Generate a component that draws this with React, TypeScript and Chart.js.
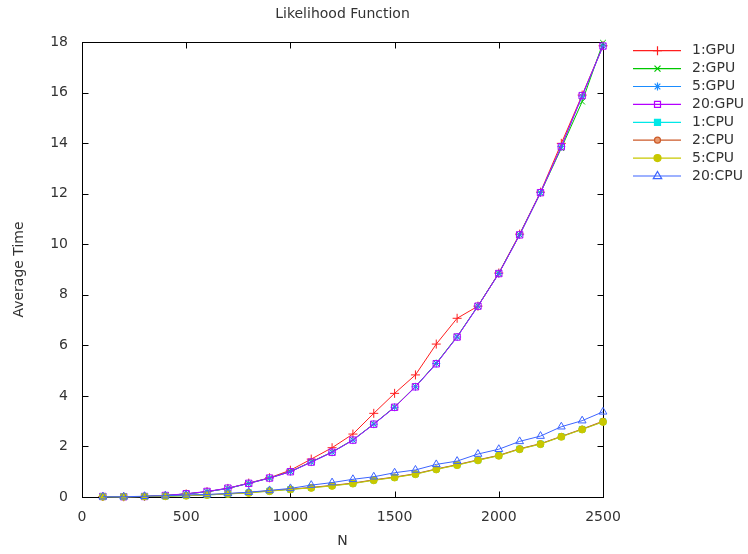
import React, { useEffect, useRef } from 'react';
import { Chart, registerables } from 'chart.js';
Chart.register(...registerables);

const N = [100, 200, 300, 400, 500, 600, 700, 800, 900, 1000, 1100, 1200, 1300, 1400, 1500, 1600, 1700, 1800, 1900, 2000, 2100, 2200, 2300, 2400, 2500];

const gpu1 = [0.02, 0.01, 0.02, 0.06, 0.12, 0.21, 0.34, 0.55, 0.76, 1.06, 1.5, 1.95, 2.49, 3.31, 4.1, 4.83, 6.05, 7.07, 7.55, 8.86, 10.4, 12.06, 13.99, 15.9, 17.85];
const gpu2 = [0.02, 0.01, 0.02, 0.06, 0.12, 0.21, 0.34, 0.54, 0.75, 1.01, 1.39, 1.78, 2.26, 2.89, 3.56, 4.37, 5.29, 6.35, 7.56, 8.85, 10.38, 12.03, 13.8, 15.64, 17.97];
const gpu5 = [0.02, 0.01, 0.02, 0.06, 0.12, 0.21, 0.34, 0.54, 0.75, 1.0, 1.38, 1.77, 2.25, 2.88, 3.55, 4.36, 5.28, 6.33, 7.55, 8.84, 10.37, 12.04, 13.86, 15.86, 17.84];
const gpu20 = [0.02, 0.01, 0.02, 0.06, 0.13, 0.22, 0.35, 0.54, 0.75, 1.0, 1.38, 1.77, 2.25, 2.88, 3.55, 4.36, 5.27, 6.33, 7.55, 8.84, 10.37, 12.04, 13.86, 15.88, 17.84];
const cpu1 = [0.01, 0.01, 0.02, 0.03, 0.05, 0.08, 0.12, 0.17, 0.24, 0.3, 0.37, 0.45, 0.54, 0.67, 0.78, 0.91, 1.1, 1.27, 1.46, 1.64, 1.9, 2.1, 2.39, 2.68, 2.98];
const cpu2 = [0.01, 0.01, 0.02, 0.04, 0.07, 0.09, 0.13, 0.18, 0.25, 0.31, 0.38, 0.46, 0.55, 0.68, 0.79, 0.92, 1.11, 1.28, 1.47, 1.65, 1.91, 2.11, 2.4, 2.69, 3.0];
const cpu5 = [0.01, 0.01, 0.02, 0.03, 0.05, 0.08, 0.12, 0.16, 0.23, 0.3, 0.36, 0.44, 0.53, 0.66, 0.77, 0.9, 1.09, 1.26, 1.45, 1.63, 1.89, 2.09, 2.38, 2.67, 2.97];
const cpu20 = [0.01, 0.01, 0.03, 0.05, 0.08, 0.1, 0.14, 0.19, 0.26, 0.34, 0.47, 0.57, 0.7, 0.8, 0.96, 1.07, 1.29, 1.42, 1.7, 1.89, 2.2, 2.41, 2.78, 3.02, 3.37];

const seriesLabels = ['1:GPU', '2:GPU', '5:GPU', '20:GPU', '1:CPU', '2:CPU', '5:CPU', '20:CPU'];
const seriesValues = [gpu1, gpu2, gpu5, gpu20, cpu1, cpu2, cpu5, cpu20];
const seriesColors = ['rgb(255,30,30)', 'rgb(0,200,0)', 'rgb(26,140,255)', 'rgb(180,0,255)', 'rgb(0,232,232)', 'rgb(204,90,40)', 'rgb(200,200,0)', 'rgb(60,100,255)'];
const seriesMarkers = ['cross', 'crossRot', 'star', 'rectOpen', 'rectFilled', 'circleRing', 'circleFilled', 'triangleOpen'];

const xTicks = [0, 500, 1000, 1500, 2000, 2500];
const yTicks = [0, 2, 4, 6, 8, 10, 12, 14, 16, 18];

const FONT = '"DejaVu Sans", sans-serif';
const TEXT = '#333333';

function markerProps(m: string, color: string) {
  switch (m) {
    case 'cross': return { pointStyle: 'cross', pointRadius: 4.5, pointBackgroundColor: color };
    case 'crossRot': return { pointStyle: 'crossRot', pointRadius: 4, pointBackgroundColor: color };
    case 'star': return { pointStyle: 'star', pointRadius: 4, pointBackgroundColor: color };
    case 'rectOpen': return { pointStyle: 'rect', pointRadius: 4.5, pointBackgroundColor: 'rgba(0,0,0,0)' };
    case 'rectFilled': return { pointStyle: 'rect', pointRadius: 4, pointBackgroundColor: color };
    case 'circleRing': return { pointStyle: 'circle', pointRadius: 3, pointBackgroundColor: 'rgb(232,154,112)' };
    case 'circleFilled': return { pointStyle: 'circle', pointRadius: 3.5, pointBackgroundColor: color };
    default: return { pointStyle: 'triangle', pointRadius: 4.5, pointBackgroundColor: 'rgba(0,0,0,0)' };
  }
}

function drawMarker(ctx: CanvasRenderingContext2D, m: string, x: number, y: number, color: string) {
  ctx.strokeStyle = color;
  ctx.fillStyle = color;
  ctx.lineWidth = 1.2;
  ctx.beginPath();
  if (m === 'cross') {
    ctx.moveTo(x - 4.5, y); ctx.lineTo(x + 4.5, y);
    ctx.moveTo(x, y - 4.5); ctx.lineTo(x, y + 4.5);
    ctx.stroke();
  } else if (m === 'crossRot') {
    const r = 3;
    ctx.moveTo(x - r, y - r); ctx.lineTo(x + r, y + r);
    ctx.moveTo(x - r, y + r); ctx.lineTo(x + r, y - r);
    ctx.stroke();
  } else if (m === 'star') {
    const r = 4;
    ctx.moveTo(x - r, y); ctx.lineTo(x + r, y);
    ctx.moveTo(x, y - r); ctx.lineTo(x, y + r);
    const d = r * 0.7071;
    ctx.moveTo(x - d, y - d); ctx.lineTo(x + d, y + d);
    ctx.moveTo(x - d, y + d); ctx.lineTo(x + d, y - d);
    ctx.stroke();
  } else if (m === 'rectOpen') {
    ctx.rect(x - 3, y - 3, 6, 6); ctx.stroke();
  } else if (m === 'rectFilled') {
    ctx.rect(x - 3, y - 3, 6, 6); ctx.fill(); ctx.stroke();
  } else if (m === 'circleRing') {
    ctx.arc(x, y, 3, 0, Math.PI * 2); ctx.fillStyle = 'rgb(232,154,112)'; ctx.fill(); ctx.stroke();
  } else if (m === 'circleFilled') {
    ctx.arc(x, y, 3.5, 0, Math.PI * 2); ctx.fill(); ctx.stroke();
  } else {
    ctx.moveTo(x, y - 4.5); ctx.lineTo(x + 4.2, y + 2.6); ctx.lineTo(x - 4.2, y + 2.6); ctx.closePath(); ctx.stroke();
  }
}

const framePlugin = {
  id: 'frame',
  beforeDatasetsDraw(chart: any) {
    const { ctx, chartArea } = chart;
    const l = Math.round(chartArea.left) + 0.5;
    const r = Math.round(chartArea.right) + 0.5;
    const t = Math.round(chartArea.top) + 0.5;
    const b = Math.round(chartArea.bottom) + 0.5;
    ctx.save();
    ctx.strokeStyle = '#000000';
    ctx.lineWidth = 1;
    ctx.strokeRect(l, t, r - l, b - t);
    const xs = chart.scales.x;
    const ys = chart.scales.y;
    ctx.beginPath();
    for (const v of xTicks) {
      const px = Math.round(xs.getPixelForValue(v)) + 0.5;
      ctx.moveTo(px, b); ctx.lineTo(px, b - 6);
      ctx.moveTo(px, t); ctx.lineTo(px, t + 6);
    }
    for (const v of yTicks) {
      const py = Math.round(ys.getPixelForValue(v)) + 0.5;
      ctx.moveTo(l, py); ctx.lineTo(l + 6, py);
      ctx.moveTo(r, py); ctx.lineTo(r - 6, py);
    }
    ctx.stroke();
    ctx.fillStyle = TEXT;
    ctx.font = '14px ' + FONT;
    ctx.textAlign = 'center';
    ctx.textBaseline = 'middle';
    ctx.fillText('Likelihood Function', (chartArea.left + chartArea.right) / 2, 14);
    ctx.restore();
  },
  afterDatasetsDraw(chart: any) {
    const ctx: CanvasRenderingContext2D = chart.ctx;
    for (let i = 0; i < seriesLabels.length; i++) {
      const color = seriesColors[i];
      const y = 50.7 + i * 17.9;
      ctx.save();
      ctx.globalAlpha = 1;
      ctx.setLineDash([]);
      ctx.strokeStyle = color;
      ctx.lineWidth = 1.2;
      ctx.beginPath();
      ctx.moveTo(633, y);
      ctx.lineTo(681, y);
      ctx.stroke();
      drawMarker(ctx, seriesMarkers[i], 657.5, y, color);
      ctx.fillStyle = TEXT;
      ctx.font = '14px ' + FONT;
      ctx.textAlign = 'left';
      ctx.textBaseline = 'middle';
      ctx.fillText(seriesLabels[i], 692, y);
      ctx.restore();
    }
  },
};

export default function App() {
  const ref = useRef<HTMLCanvasElement | null>(null);
  useEffect(() => {
    if (!ref.current) return;
    const datasets = seriesLabels.map((label, i) => ({
      label,
      data: N.map((n, j) => ({ x: n, y: seriesValues[i][j] })),
      borderColor: seriesColors[i],
      pointBorderColor: seriesColors[i],
      borderWidth: 1,
      pointBorderWidth: 1,
      pointHoverRadius: 4,
      tension: 0,
      fill: false,
      clip: false as any,
      order: seriesLabels.length - i,
      ...markerProps(seriesMarkers[i], seriesColors[i]),
    }));
    const chart = new Chart(ref.current, {
      type: 'line',
      data: { datasets },
      plugins: [framePlugin],
      options: {
        responsive: false,
        animation: false,
        layout: { padding: { left: 0, top: 42, right: 145, bottom: 0 } },
        plugins: { legend: { display: false }, title: { display: false }, tooltip: { enabled: false } },
        scales: {
          x: {
            type: 'linear',
            min: 0,
            max: 2500,
            afterFit: (s: any) => { s.height = 57; },
            afterBuildTicks: (s: any) => { s.ticks = xTicks.map((v) => ({ value: v })); },
            grid: { display: false, drawTicks: false },
            border: { display: false },
            ticks: { color: TEXT, font: { family: FONT, size: 14 }, padding: 12, maxRotation: 0, callback: (v: any) => String(v) },
            title: { display: true, text: 'N', color: TEXT, font: { family: FONT, size: 14 }, padding: { top: 0, bottom: 4 } },
          },
          y: {
            type: 'linear',
            min: 0,
            max: 18,
            afterFit: (s: any) => { s.width = 82; },
            afterBuildTicks: (s: any) => { s.ticks = yTicks.map((v) => ({ value: v })); },
            grid: { display: false, drawTicks: false },
            border: { display: false },
            ticks: { color: TEXT, font: { family: FONT, size: 14 }, padding: 14, callback: (v: any) => String(v) },
            title: { display: true, text: 'Average Time', color: TEXT, font: { family: FONT, size: 14 }, padding: { top: 11, bottom: 0 } },
          },
        },
      },
    });
    return () => chart.destroy();
  }, []);
  return (
    <div style={{ position: 'absolute', left: 0, top: 0, width: 748, height: 554, background: '#ffffff' }}>
      <canvas ref={ref} width={748} height={554} style={{ display: 'block' }} />
    </div>
  );
}
